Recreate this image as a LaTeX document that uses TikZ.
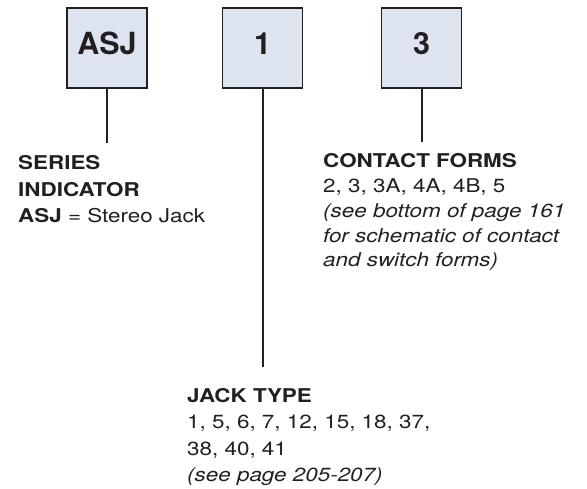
\documentclass[tikz,border=0pt]{standalone}
\usepackage{fontspec}
\setmainfont{TeX Gyre Heros}[FakeStretch=1.18]
\newfontfamily\boxfont{TeX Gyre Heros}
\usetikzlibrary{positioning}

\definecolor{boxblue}{HTML}{DDE3EF}
\definecolor{inkgray}{HTML}{231F20}

\tikzset{
  part box/.style={
    draw=inkgray,
    line width=1.1pt,
    fill=boxblue,
    text=inkgray,
    minimum width=80pt,
    inner xsep=0pt,
    inner ysep=0pt,
    text height=47pt,
    text depth=33pt,
    font=\boxfont\fontsize{30.5}{36}\selectfont\bfseries
  },
  lead/.style={
    draw=inkgray,
    line width=2pt
  },
  desc/.style={
    anchor=base west,
    align=left,
    inner sep=0pt,
    text=inkgray,
    font=\fontsize{19}{26.5}\selectfont
  },
}

\begin{document}
\begin{tikzpicture}[x=1pt, y=1pt]
  \useasboundingbox (0,0) rectangle (587,489);

  \foreach \n/\t/\x in {asj/ASJ/107, type/1/262.5, form/3/421.5}
    \node [part box] (\n) at (\x,441) {\t};

  \foreach \n/\l in {asj/54, type/278, form/53}
    \coordinate (\n-end) at ([yshift=-\l]\n.south);

  \foreach \n in {asj,type,form}
    \draw [lead] (\n) -- (\n-end);

  % base anchor sits on the last line
  \node [desc] (series) at (18,266)
    {\textbf{SERIES}\\\textbf{INDICATOR}\\\textbf{ASJ} = Stereo Jack};

  \node [desc, font=\fontsize{19}{24.8}\selectfont] (forms) at (323,222)
    {\textbf{CONTACT FORMS}\\2, 3, 3A, 4A, 4B, 5\\
     \textit{(see bottom of page 161}\\\textit{for schematic of contact}\\
     \textit{and switch forms)}};

  \node [desc] (jack) at (187,7)
    {\textbf{JACK TYPE}\\1, 5, 6, 7, 12, 15, 18, 37,\\38, 40, 41\\
     \textit{(see page 205-207)}};

\end{tikzpicture}
\end{document}
